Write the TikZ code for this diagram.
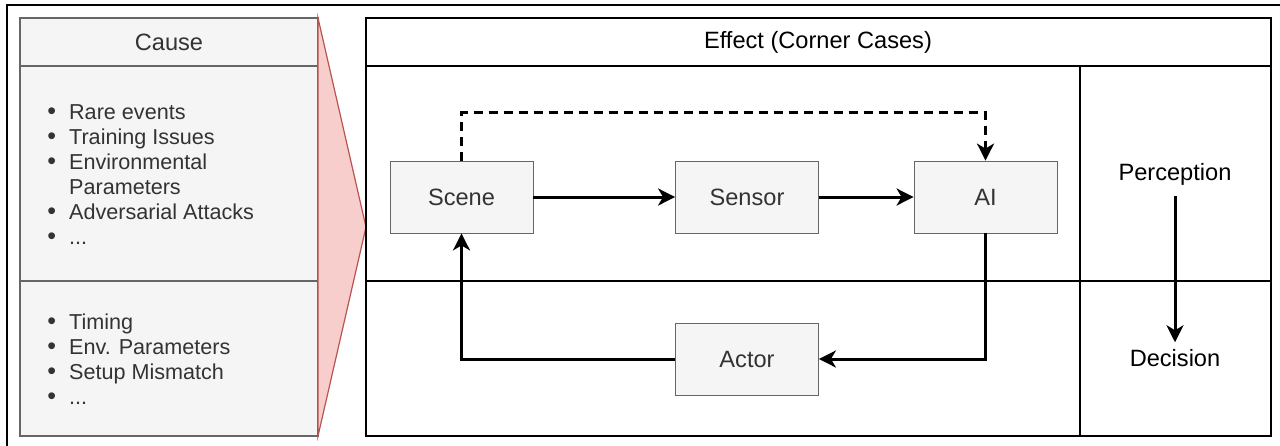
\documentclass[tikz,border=0pt]{standalone}
\usepackage{fontspec}
\setmainfont{Liberation Sans}
\usetikzlibrary{arrows.meta}
\definecolor{causeback}{RGB}{245,245,245}
\definecolor{causeline}{RGB}{102,102,102}
\definecolor{wedgeback}{RGB}{248,206,204}
\definecolor{wedgeline}{RGB}{184,84,80}
\definecolor{boxtext}{RGB}{51,51,51}
\newcommand{\listdot}{{\fontsize{12.5}{12.5}\selectfont\textbullet}}

\tikzset{
  block/.style={draw=causeline,fill=causeback,text=boxtext,minimum width=71.5pt,minimum height=36pt,inner sep=0pt,font=\fontsize{11.8}{14}\selectfont},
  caption/.style={font=\fontsize{11.8}{14}\selectfont},
  itemlist/.style={anchor=west,inner sep=0pt,text=boxtext,font=\fontsize{10.8}{12.5}\selectfont},
  flow/.style={line width=1.5pt,-{Stealth[length=8.5pt,width=8.5pt,inset=2.5pt]}},
}

\begin{document}
\begin{tikzpicture}[x=0.5pt,y=-0.5pt]
\useasboundingbox (0,0) rectangle (1280,445);
\clip (0,0) rectangle (1280,445);
\draw[line width=1pt] (7,5) rectangle (1300,470);

% cause side
\draw[draw=causeline,fill=causeback,line width=0.6pt] (20,18) rectangle (318,436);
\draw[causeline,line width=0.6pt] (20,66) -- (318,66) (20,281) -- (318,281);
\draw[draw=wedgeline,fill=wedgeback,line width=0.6pt] (318,18) -- (366,227) -- (318,436) -- cycle;
\node[caption,text=boxtext] (cause) at (169,42) {Cause};
\node[itemlist] (swlist) at (47,177) {\begin{tabular}{@{}l@{\hspace{6.5pt}}l@{}}
\listdot & Rare events\\
\listdot & Training Issues\\
\listdot & Environmental\\
 & Parameters\\
\listdot & Adversarial Attacks\\
\listdot & ...
\end{tabular}};
\node[itemlist] (hwlist) at (47,362) {\begin{tabular}{@{}l@{\hspace{6.5pt}}l@{}}
\listdot & Timing\\
\listdot & Env. Parameters\\
\listdot & Setup Mismatch\\
\listdot & ...
\end{tabular}};

% effect side
\draw[line width=0.6pt] (366,18) rectangle (1271,436);
\draw[line width=0.6pt] (366,66) -- (1271,66) (366,281) -- (1271,281) (1080,66) -- (1080,436);
\node[caption] (effect) at (818,42) {Effect (Corner Cases)};

\node[block] (scene) at (461.5,197) {Scene};
\node[block] (sensor) at (747,197) {Sensor};
\node[block] (ai) at (985.5,197) {AI};
\node[block] (actor) at (747,359) {Actor};

\draw[flow] (scene) -- (sensor);
\draw[flow] (sensor) -- (ai);
\draw[flow] (ai.south) |- (actor.east);
\draw[flow] (actor.west) -| (scene.south);
\draw[flow,dash pattern=on 4.5pt off 3pt] (scene.north) -- ++(0,-48) -| (ai.north);

\node[caption,inner sep=5.5pt] (perception) at (1175,174) {Perception};
\node[caption] (decision) at (1175,358) {Decision};
\draw[flow] (perception.south) -- (decision.north);
\end{tikzpicture}
\end{document}
